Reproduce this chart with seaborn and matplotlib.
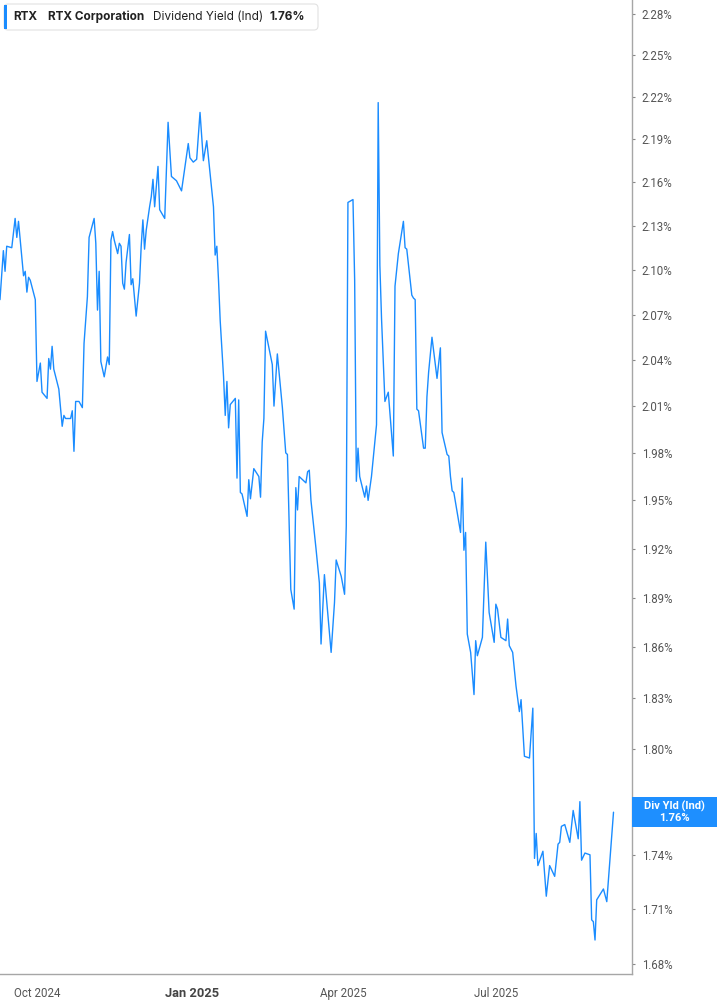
import matplotlib
matplotlib.use("Agg")
import matplotlib.pyplot as plt
import seaborn as sns
import pandas as pd
from matplotlib.patches import Rectangle, FancyBboxPatch
from matplotlib.transforms import IdentityTransform
from matplotlib.ticker import NullLocator

ticker_symbol = "RTX"
company = "RTX Corporation"
metric = "Dividend Yield (Ind)"
last_label = "1.76%"
box_label = "Div Yld (Ind)"

# days counted from 1 Oct 2024
start_date = "2024-10-01"
days = [-22, -20, -19, -18, -15, -13, -12, -11, -8, -7,
        -6, -5, -4, -1, 0, 2, 3, 6, 7, 8,
        9, 10, 13, 15, 16, 17, 20, 21, 22, 23,
        25, 27, 28, 30, 31, 34, 35, 36, 37, 38,
        40, 42, 43, 44, 45, 46, 48, 49, 50, 51,
        52, 53, 55, 56, 57, 59, 61, 62, 63, 64,
        65, 67, 68, 69, 70, 72, 73, 76, 78, 80,
        83, 86, 90, 91, 93, 95, 97, 99, 101, 105,
        106, 107, 108, 109, 111, 112, 113, 114, 115, 118,
        119, 120, 121, 122, 125, 126, 127, 129, 132, 133,
        134, 135, 136, 140, 141, 143, 146, 148, 149, 151,
        153, 154, 155, 156, 160, 161, 162, 163, 166, 168,
        169, 171, 173, 175, 177, 178, 181, 183, 184, 185,
        188, 189, 190, 191, 192, 195, 196, 197, 199, 202,
        203, 204, 205, 207, 209, 210, 212, 213, 215, 218,
        219, 220, 223, 224, 225, 226, 227, 230, 231, 232,
        233, 235, 238, 240, 241, 244, 245, 246, 247, 248,
        252, 253, 254, 255, 256, 258, 260, 261, 262, 265,
        267, 269, 272, 273, 274, 276, 279, 280, 281, 283,
        285, 287, 288, 290, 293, 295, 296, 297, 298, 301,
        303, 305, 308, 310, 311, 312, 314, 317, 319, 322,
        323, 324, 326, 329, 330, 331, 332, 333, 337, 339,
        343]

yield_pct = [2.080, 2.113, 2.099, 2.116, 2.115, 2.135, 2.122, 2.133, 2.096, 2.099,
             2.085, 2.095, 2.093, 2.080, 2.026, 2.038, 2.019, 2.015, 2.041, 2.034,
             2.049, 2.034, 2.021, 1.997, 2.004, 2.002, 2.002, 2.007, 1.981, 2.013,
             2.013, 2.009, 2.051, 2.082, 2.122, 2.135, 2.118, 2.073, 2.099, 2.039,
             2.029, 2.042, 2.037, 2.120, 2.126, 2.120, 2.111, 2.118, 2.116, 2.091,
             2.087, 2.105, 2.124, 2.090, 2.094, 2.069, 2.091, 2.116, 2.134, 2.114,
             2.127, 2.143, 2.150, 2.162, 2.143, 2.171, 2.141, 2.135, 2.202, 2.164,
             2.161, 2.154, 2.187, 2.177, 2.174, 2.176, 2.209, 2.175, 2.189, 2.143,
             2.110, 2.116, 2.093, 2.066, 2.029, 2.004, 2.026, 1.996, 2.011, 2.015,
             1.964, 2.014, 1.955, 1.954, 1.940, 1.963, 1.951, 1.970, 1.965, 1.952,
             1.987, 2.002, 2.059, 2.037, 2.010, 2.044, 2.009, 1.980, 1.979, 1.895,
             1.883, 1.958, 1.944, 1.965, 1.961, 1.968, 1.969, 1.950, 1.920, 1.899,
             1.862, 1.904, 1.880, 1.857, 1.887, 1.913, 1.903, 1.892, 1.934, 2.146,
             2.148, 2.093, 1.962, 1.983, 1.965, 1.952, 1.959, 1.950, 1.965, 1.998,
             2.216, 2.103, 2.067, 2.013, 2.019, 2.005, 1.978, 2.089, 2.111, 2.133,
             2.115, 2.114, 2.083, 2.081, 2.080, 2.008, 2.007, 1.983, 1.983, 2.016,
             2.032, 2.055, 2.028, 2.048, 1.993, 1.979, 1.978, 1.965, 1.956, 1.955,
             1.930, 1.964, 1.919, 1.930, 1.868, 1.857, 1.832, 1.864, 1.855, 1.866,
             1.924, 1.881, 1.863, 1.886, 1.883, 1.866, 1.864, 1.877, 1.861, 1.857,
             1.837, 1.822, 1.829, 1.796, 1.795, 1.824, 1.738, 1.752, 1.734, 1.742,
             1.717, 1.734, 1.728, 1.746, 1.747, 1.756, 1.757, 1.747, 1.765, 1.749,
             1.770, 1.737, 1.741, 1.740, 1.704, 1.703, 1.693, 1.715, 1.721, 1.714,
             1.764]

y_ticks = [1.68, 1.71, 1.74, 1.77, 1.80, 1.83, 1.86, 1.89, 1.92, 1.95, 1.98,
           2.01, 2.04, 2.07, 2.10, 2.13, 2.16, 2.19, 2.22, 2.25, 2.28]
x_tick_dates = ["2024-10-01", "2025-01-01", "2025-04-01", "2025-07-01"]
x_tick_labels = ["Oct 2024", "Jan 2025", "Apr 2025", "Jul 2025"]

line_color = "#1a8cff"
df = pd.DataFrame({"date": pd.Timestamp(start_date) + pd.to_timedelta(days, unit="D"),
                   "yield": yield_pct})

sns.set_style("white")
plt.rcParams["font.family"] = ["Roboto", "DejaVu Sans"]

W, H = 717, 1005
fig = plt.figure(figsize=(W / 100, H / 100), dpi=100)
ax = fig.add_axes([0, 31 / H, 632 / W, 974 / H])

sns.lineplot(data=df, x="date", y="yield", ax=ax, color=line_color,
             linewidth=1.0, estimator=None)

ax.set_yscale("log")
ax.set_ylim(1.6746, 2.2903)
ax.set_xlim(pd.Timestamp("2024-09-09"), pd.Timestamp("2025-09-20"))
ax.set_xlabel("")
ax.set_ylabel("")

for s in ["top", "left"]:
    ax.spines[s].set_visible(False)
for s in ["right", "bottom"]:
    ax.spines[s].set_color("#a6a6a6")
    ax.spines[s].set_linewidth(1.0)

# the 1.77% label sits under the value box, so leave it blank
ax.yaxis.tick_right()
ax.set_yticks(y_ticks)
ax.set_yticklabels(["" if abs(v - 1.77) < 1e-9 else f"{v:.2f}%" for v in y_ticks])
ax.yaxis.set_minor_locator(NullLocator())
ax.tick_params(axis="y", which="both", left=False, right=True, labelleft=False,
               labelright=True, direction="out", length=2.5, width=0.8,
               color="#888888", pad=4.5, labelsize=8.3, labelcolor="#555555")

ax.set_xticks(pd.to_datetime(x_tick_dates))
ax.set_xticklabels(x_tick_labels)
ax.xaxis.set_minor_locator(NullLocator())
ax.tick_params(axis="x", direction="out", length=3, width=0.8, color="#999999",
               pad=6, labelsize=8.3, labelcolor="#555555")
for lbl in ax.get_xticklabels():
    if lbl.get_text().startswith("Jan"):
        lbl.set_fontweight("bold")
        lbl.set_fontsize(9.3)
        lbl.set_color("#444444")

# value box on the right axis at the last point
x0 = ax.transAxes.transform((1, 0))[0]
y0 = ax.get_yaxis_transform().transform((1, yield_pct[-1]))[1]
fig.add_artist(Rectangle((x0, y0 - 15), W - x0, 30, transform=IdentityTransform(),
                         facecolor="#1e8fff", edgecolor="none", zorder=5))
xc = (x0 + W) / 2
fig.text(xc, y0 + 6, box_label, transform=IdentityTransform(), ha="center",
         va="center", color="white", fontsize=8, fontweight="bold", zorder=6)
fig.text(xc, y0 - 6, last_label, transform=IdentityTransform(), ha="center",
         va="center", color="white", fontsize=8, fontweight="bold", zorder=6)

# header legend
hdr = ["Inter", "DejaVu Sans"]
fig.add_artist(FancyBboxPatch((4, H - 30), 314, 26, boxstyle="round,pad=0,rounding_size=4",
                              transform=IdentityTransform(), facecolor="white",
                              edgecolor="#e2e2e2", linewidth=0.8, zorder=5))
fig.add_artist(Rectangle((4, H - 29), 3, 24, transform=IdentityTransform(),
                         facecolor=line_color, edgecolor="none", zorder=6))
yh = H - 17
fig.text(13, yh, ticker_symbol, transform=IdentityTransform(), va="center",
         family=hdr, fontsize=8.5, fontweight="bold", color="#222222", zorder=6)
fig.text(48, yh, company, transform=IdentityTransform(), va="center",
         family=hdr, fontsize=8.5, fontweight="bold", color="#222222", zorder=6)
fig.text(153, yh, metric, transform=IdentityTransform(), va="center",
         family=hdr, fontsize=8.5, color="#222222", zorder=6)
fig.text(270, yh, last_label, transform=IdentityTransform(), va="center",
         family=hdr, fontsize=8.5, fontweight="bold", color="#222222", zorder=6)

fig.savefig("out.png", dpi=100, facecolor="white")
